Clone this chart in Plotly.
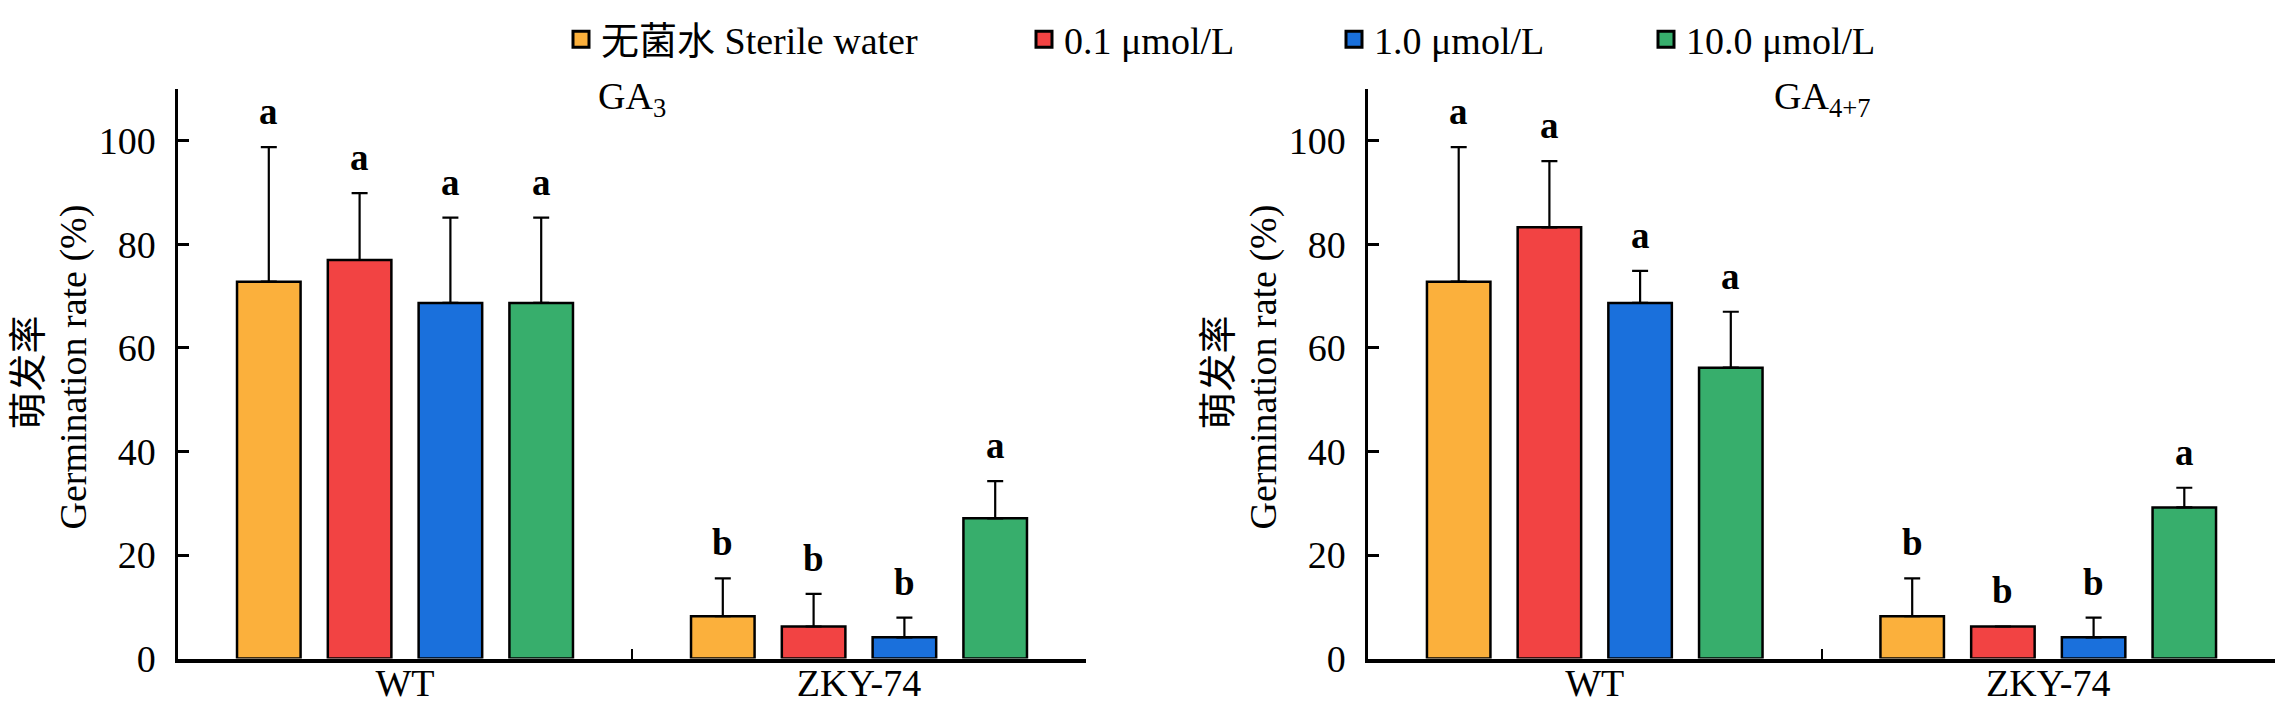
import plotly.graph_objects as go

# page size and the browser's default 8px body margin
PAGE_W, PAGE_H = 2286, 718
OFF = 8
W, H = PAGE_W - 2 * OFF, PAGE_H - 2 * OFF

# ---------------- data ----------------
genotypes = ["WT", "ZKY-74"]
treatments = ["无菌水 Sterile water", "0.1 μmol/L", "1.0 μmol/L", "10.0 μmol/L"]
colors = ["#FBB03C", "#F24343", "#1A70DC", "#37AE6C"]

# GA3 panel: means per treatment, [WT, ZKY-74]
ga3_means = [[72.8, 8.2], [77.0, 6.2], [68.7, 4.1], [68.7, 27.1]]
ga3_errs = [[26.0, 7.3], [12.9, 6.3], [16.5, 3.8], [16.5, 7.2]]
ga3_letters = [["a", "b"], ["a", "b"], ["a", "b"], ["a", "a"]]

# GA4+7 panel
ga47_means = [[72.8, 8.2], [83.3, 6.2], [68.7, 4.1], [56.2, 29.2]]
ga47_errs = [[26.0, 7.3], [12.8, None], [6.2, 3.8], [10.8, 3.8]]
ga47_letters = [["a", "b"], ["a", "b"], ["a", "b"], ["a", "a"]]

panel_titles = ["GA<sub>3</sub>", "GA<sub>4+7</sub>"]
y_ticks = [0, 20, 40, 60, 80, 100]
y_title_cn = "萌发率"
y_title_en = "Germination rate (%)"

FONT = "Liberation Serif, Noto Sans CJK SC, serif"


def px_x(x):
    return (x - OFF) / W


def px_y(y):
    return 1 - (y - OFF) / H


fig = go.Figure()

n_tr = len(treatments)
bargap = 0.2
slot = (1 - bargap) / n_tr
offsets = [(-(n_tr - 1) / 2 + i) * slot for i in range(n_tr)]

annotations = []
panels = [(ga3_means, ga3_errs, ga3_letters, "x", "y"),
          (ga47_means, ga47_errs, ga47_letters, "x2", "y2")]

for pi, (means, errs, letters, xa, ya) in enumerate(panels):
    for ti in range(n_tr):
        fig.add_trace(go.Bar(
            x=genotypes, y=means[ti], name=treatments[ti],
            marker=dict(color=colors[ti], line=dict(color="black", width=2.5)),
            error_y=dict(type="data", symmetric=False, array=errs[ti],
                         arrayminus=[0] * len(genotypes), color="black",
                         thickness=2.2, width=8),
            xaxis=xa, yaxis=ya, showlegend=False, offsetgroup=str(ti),
        ))
        for gi in range(len(genotypes)):
            e = errs[ti][gi]
            top = means[ti][gi] + (e if e is not None else 0)
            annotations.append(dict(
                x=gi + offsets[ti], y=top, xref=xa, yref=ya,
                text="<b>%s</b>" % letters[ti][gi], showarrow=False,
                yanchor="bottom", xanchor="center", yshift=13,
                font=dict(family=FONT, size=37, color="black"),
            ))

# legend entries (one legend each, laid out in a row)
legend_x_px = [561, 1024, 1334, 1646]
for ti in range(n_tr):
    lname = "legend" if ti == 0 else "legend%d" % (ti + 1)
    fig.add_trace(go.Scatter(
        x=[None], y=[None], mode="markers", name=treatments[ti],
        marker=dict(symbol="square", size=16, color=colors[ti],
                    line=dict(color="black", width=3)),
        legend=lname, showlegend=True, xaxis="x", yaxis="y",
    ))

axis_left_px = [178, 1368]
axis_right_px = [1086, 2275]
dom1 = [px_x(axis_left_px[0]), px_x(axis_right_px[0])]
dom2 = [px_x(axis_left_px[1]), px_x(axis_right_px[1])]
ydom = [px_y(657), px_y(70)]

for i, dom in enumerate([dom1, dom2]):
    annotations.append(dict(
        x=(dom[0] + dom[1]) / 2, y=px_y(80), xref="paper", yref="paper",
        text=panel_titles[i], showarrow=False, xanchor="center", yanchor="middle",
        font=dict(family=FONT, size=38, color="black"),
    ))
    # two-line y-axis title (Chinese above English)
    annotations.append(dict(
        x=px_x(axis_left_px[i] - 150), y=px_y(362), xref="paper", yref="paper",
        text=y_title_cn, showarrow=False, textangle=-90,
        xanchor="center", yanchor="middle",
        font=dict(family=FONT, size=38, color="black"),
    ))
    annotations.append(dict(
        x=px_x(axis_left_px[i] - 104), y=px_y(357), xref="paper", yref="paper",
        text=y_title_en, showarrow=False, textangle=-90,
        xanchor="center", yanchor="middle",
        font=dict(family=FONT, size=38, color="black"),
    ))

xaxis_common = dict(
    type="category", range=[-0.5, 1.5], tickson="boundaries",
    ticks="inside", ticklen=10, tickwidth=2, tickcolor="black",
    showline=True, linecolor="black", linewidth=3.5,
    showgrid=False, zeroline=False, automargin=False,
    tickfont=dict(family=FONT, size=38, color="black"),
    ticklabelstandoff=-12,
)
yaxis_common = dict(
    range=[0, 110], tickmode="array", tickvals=y_ticks,
    ticks="inside", ticklen=11, tickwidth=2.5, tickcolor="black",
    showline=True, linecolor="black", linewidth=2.5,
    showgrid=False, zeroline=False, automargin=False,
    tickfont=dict(family=FONT, size=38, color="black"),
    ticklabelstandoff=12,
    domain=ydom,
)

legend_common = dict(
    orientation="h", yanchor="middle", y=px_y(19), xanchor="left",
    font=dict(family=FONT, size=38, color="black"), bgcolor="rgba(0,0,0,0)",
    itemsizing="trace",
)

layout = dict(
    width=W, height=H, margin=dict(l=0, r=0, t=0, b=0),
    paper_bgcolor="white", plot_bgcolor="white",
    barmode="group", bargap=bargap, bargroupgap=0.3,
    font=dict(family=FONT, size=38, color="black"),
    xaxis=dict(domain=dom1, anchor="y", **xaxis_common),
    yaxis=dict(anchor="x", **yaxis_common),
    xaxis2=dict(domain=dom2, anchor="y2", **xaxis_common),
    yaxis2=dict(anchor="x2", **yaxis_common),
    annotations=annotations,
)
for ti in range(n_tr):
    lname = "legend" if ti == 0 else "legend%d" % (ti + 1)
    layout[lname] = dict(x=px_x(legend_x_px[ti]), **legend_common)

fig.update_layout(**layout)
fig.write_html("out.html")
